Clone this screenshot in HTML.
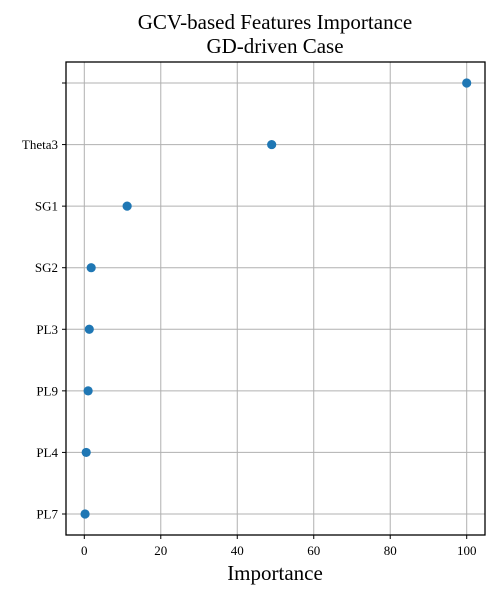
<!DOCTYPE html>
<html><head><meta charset="utf-8"><style>
body{margin:0;background:#fff;}
svg text{font-family:"Liberation Serif",serif;fill:#000;}
</style></head><body>
<svg width="500" height="600" xmlns="http://www.w3.org/2000/svg">
<rect width="500" height="600" fill="#fff"/>
<text x="275" y="29" font-size="21" text-anchor="middle">GCV-based Features Importance</text>
<text x="275" y="53" font-size="21" text-anchor="middle">GD-driven Case</text>
<g id="grid"></g><g id="axes"></g><g id="marks"></g>
<rect x="66" y="62" width="419" height="473" fill="none" stroke="#000" stroke-width="1.3"/>
<text x="275" y="580" font-size="21" text-anchor="middle">Importance</text>
</svg>
<script>
const categories=["","Theta3","SG1","SG2","PL3","PL9","PL4","PL7"];
const values=[100,49,11.2,1.8,1.3,1.0,0.5,0.2];
const xTicks=[0,20,40,60,80,100];
const NS="http://www.w3.org/2000/svg";
function xs(v){return 84.3+v*3.824;}
function ys(i){return 83+i*61.57;}
function mk(tag,attrs,parent){const e=document.createElementNS(NS,tag);for(const k in attrs)e.setAttribute(k,attrs[k]);document.getElementById(parent).appendChild(e);return e;}
xTicks.forEach(t=>{
 const g=mk("line",{x1:xs(t),x2:xs(t),y1:62,y2:535,stroke:"#b0b0b0","stroke-width":1},"grid");
 
 
 mk("line",{x1:xs(t),x2:xs(t),y1:535,y2:539,stroke:"#000"},"axes");
 const l=mk("text",{x:xs(t),y:555,"font-size":13,"text-anchor":"middle"},"axes");
 l.textContent=t;
 
 
});
categories.forEach((c,i)=>{
 const g=mk("line",{x1:66,x2:485,y1:ys(i),y2:ys(i),stroke:"#b0b0b0","stroke-width":1},"grid");
 
 
 mk("line",{x1:62,x2:66,y1:ys(i),y2:ys(i),stroke:"#000"},"axes");
 const l=mk("text",{x:58,y:ys(i)+4.5,"font-size":13,"text-anchor":"end"},"axes");
 l.textContent=c;
 
 
 const d=mk("circle",{cx:xs(values[i]),cy:ys(i),r:4.6,fill:"#1f77b4"},"marks");
 
 
});
</script>
</body></html>
